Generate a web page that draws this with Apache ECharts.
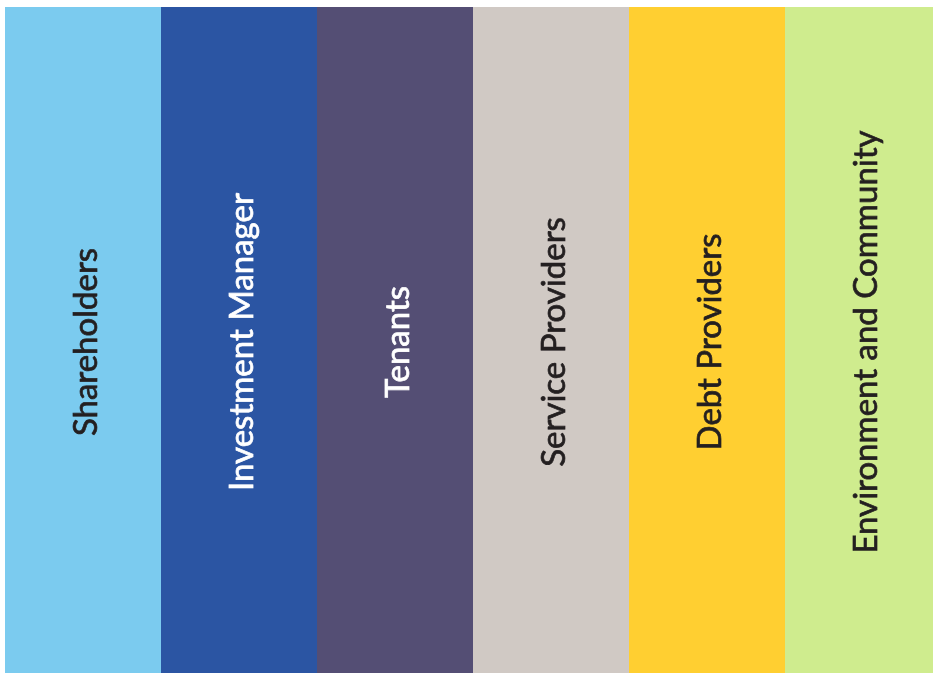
<!DOCTYPE html>
<html>
<head>
<meta charset="utf-8">
<script src="https://cdn.jsdelivr.net/npm/echarts@6/dist/echarts.min.js"></script>
<style>
  html, body { margin: 0; padding: 0; background: #fff; }
  #chart { width: 933px; height: 673px; }
</style>
</head>
<body>
<div id="chart"></div>
<script>
var groups = ['Shareholders', 'Investment Manager', 'Tenants', 'Service Providers', 'Debt Providers', 'Environment and Community'];
var heights = [1, 1, 1, 1, 1, 1];
var fills = ['#7bcbef', '#2b55a3', '#544e74', '#d0c9c4', '#ffcf31', '#cfec8e'];
var labelColors = ['#231f20', '#ffffff', '#ffffff', '#231f20', '#231f20', '#231f20'];

var chart = echarts.init(document.getElementById('chart'));

var option = {
  animation: false,
  grid: { left: 5, top: 7, width: 936, bottom: 0, outerBoundsMode: 'none', containLabel: false },
  xAxis: {
    type: 'category',
    data: groups,
    show: false
  },
  yAxis: {
    type: 'value',
    min: 0,
    max: 1,
    show: false
  },
  series: [{
    type: 'bar',
    barWidth: '100%',
    data: heights.map(function (v, i) {
      return {
        value: v,
        itemStyle: { color: fills[i] },
        label: {
          color: labelColors[i],
          textBorderColor: labelColors[i],
          textBorderWidth: 0.7
        }
      };
    }),
    label: {
      show: true,
      position: 'inside',
      rotate: 90,
      offset: [-2, 3],
      formatter: '{b}',
      fontFamily: 'Lato',
      fontSize: 33
    }
  }]
};

chart.setOption(option);
</script>
</body>
</html>
